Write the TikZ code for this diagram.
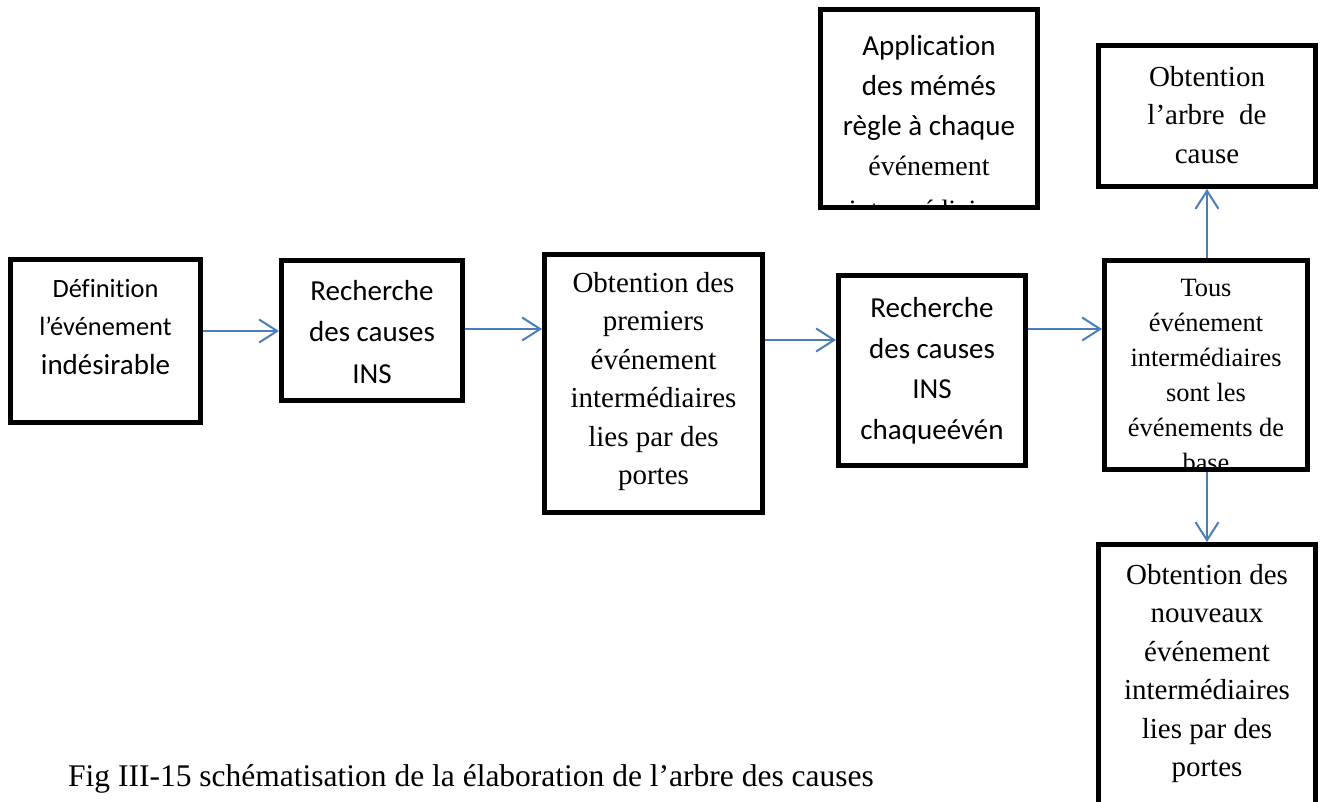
\documentclass[tikz,border=0pt]{standalone}
\usepackage{fontspec}
\setmainfont{Liberation Serif}
\newfontfamily\califont[Ligatures=NoCommon]{Carlito}
\usetikzlibrary{arrows.meta}
\definecolor{flowblue}{RGB}{74,126,187}
\newcommand\fs[2]{\fontsize{#1}{#2}\selectfont}
\tikzset{
  frame/.style={draw=black, line width=5pt, inner sep=0pt, rectangle},
  flow/.style={draw=flowblue, line width=2pt, -{Straight Barb[length=18pt,width=23pt]}},
  label/.style={align=center, anchor=north, inner sep=0pt},
}
\begin{document}
\begin{tikzpicture}[x=1pt,y=-1pt]
\useasboundingbox (0,0) rectangle (1320,801);
\clip (0,0) rectangle (1320,801);
\fill[white] (0,0) rectangle (1320,801);

% frames
\node[frame, minimum width=190pt, minimum height=163pt] (b1) at (105.5,341) {};
\node[frame, minimum width=181pt, minimum height=140pt] (b2) at (372,330.5) {};
\node[frame, minimum width=218pt, minimum height=258pt] (b3) at (653.5,383.5) {};
\node[frame, minimum width=187pt, minimum height=190pt] (b4) at (932,370.5) {};
\node[frame, minimum width=203pt, minimum height=209pt] (b5) at (1206,365) {};
\node[frame, minimum width=217pt, minimum height=198pt] (b6) at (929,108.5) {};
\node[frame, minimum width=217pt, minimum height=141pt] (b7) at (1207,116) {};
\node[frame, minimum width=217pt, minimum height=283pt] (b8) at (1207,686) {};

% texts
\node[label, font=\califont\fs{26.4}{38.5}] (t1) at (105.5,270)
  {\strut Définition\\l’événement\\{\fs{29}{38.5}indésirable}};
\node[label, font=\califont\fs{29}{41.5}] (t2) at (372,271)
  {\strut Recherche\\des causes\\INS};
\node[label, font=\fs{29}{38.5}] (t3) at (653.5,265)
  {\strut Obtention des\\premiers\\événement\\intermédiaires\\lies par des\\portes};
\node[label, font=\califont\fs{29}{40.5}] (t4) at (932,289)
  {\strut Recherche\\des causes\\INS\\chaqueévén};
\begin{scope}
  \clip ([shift={(2.5,2.5)}]b5.north west) rectangle ([shift={(-2.5,-2.5)}]b5.south east);
  \node[label, font=\fs{26.4}{35}] (t5) at (1206,271.5)
    {\strut Tous\\événement\\intermédiaires\\sont les\\événements de\\base};
\end{scope}
\begin{scope}
  \clip ([shift={(2.5,2.5)}]b6.north west) rectangle ([shift={(-2.5,-2.5)}]b6.south east);
  \node[label, font=\califont\fs{29}{40}] (t6) at (929,27)
    {\strut Application\\des mémés\\règle à chaque\\{\rmfamily\fs{28}{40}événement}\\[4pt]{\rmfamily\fs{28}{40}intermédiaires}};
\end{scope}
\node[label, font=\fs{29}{38.5}] (t7) at (1207,59)
  {\strut Obtention\\l’arbre\ \ de\\cause};
\node[label, font=\fs{29}{38.5}] (t8) at (1207,557)
  {\strut Obtention des\\nouveaux\\événement\\intermédiaires\\lies par des\\portes};

% caption
\node[anchor=base west, inner sep=0pt, font=\fs{31.5}{38}] (cap) at (68,786)
  {Fig III-15 schématisation de la élaboration de l’arbre des causes};

% connectors
\coordinate (r1) at (0,331);
\coordinate (r2) at (0,329);
\coordinate (r3) at (0,340);
\coordinate (r4) at (0,329);
\coordinate (c5) at (1207,0);
\draw[flow] (b1.east |- r1) -- (b2.west |- r1);
\draw[flow] (b2.east |- r2) -- (b3.west |- r2);
\draw[flow] (b3.east |- r3) -- (b4.west |- r3);
\draw[flow] (b4.east |- r4) -- (b5.west |- r4);
\draw[flow] (b5.north -| c5) -- (b7.south -| c5);
\draw[flow] (b5.south -| c5) -- (b8.north -| c5);
\end{tikzpicture}
\end{document}
